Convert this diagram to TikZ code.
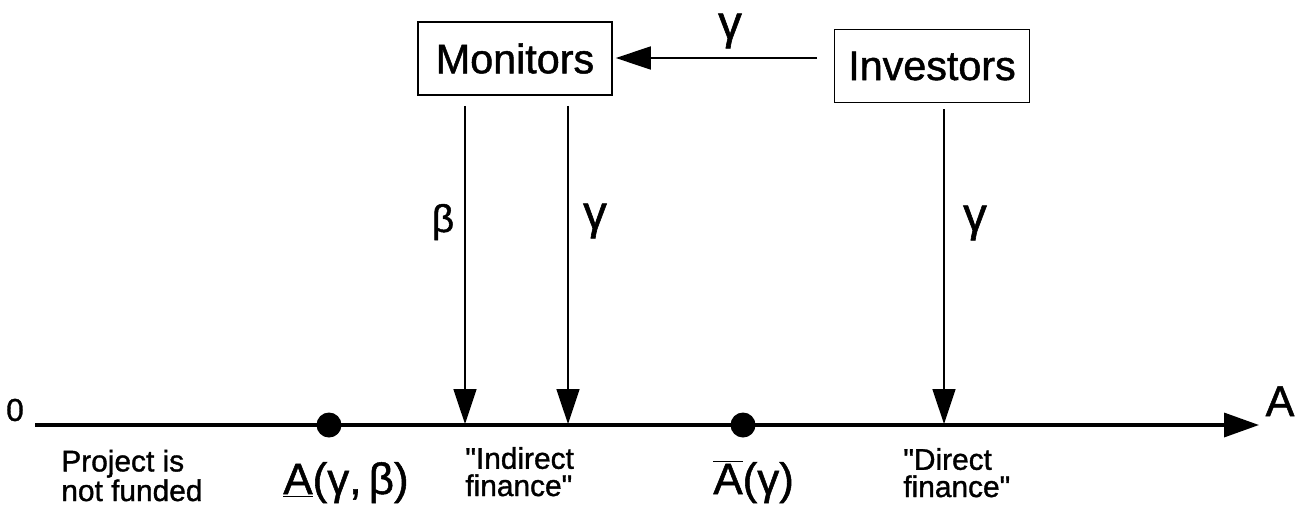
\documentclass[tikz,border=0pt]{standalone}
\usepackage{fontspec}
\setmainfont{Liberation Sans}
\newfontfamily\hv{Liberation Sans}[FakeBold=1.2]
\usetikzlibrary{arrows.meta}
\begin{document}
\begin{tikzpicture}[x=0.02cm,y=-0.02cm,
  box/.style={draw,line width=0.9pt,minimum height=1.46cm,inner sep=0pt,font=\hv\fontsize{23.5}{26}\selectfont},
  arr/.style={line width=0.9pt,-{Triangle[length=0.7cm,width=0.46cm]}},
  axisline/.style={line width=2pt,-{Triangle[length=0.7cm,width=0.48cm]}},
  dot/.style={circle,fill,inner sep=0pt,minimum size=0.5cm},
  lbl/.style={font=\hv\fontsize{17}{15.5}\selectfont,align=left,anchor=base west,inner sep=0pt},
  grk/.style={font=\hv\fontsize{27}{28}\selectfont,inner sep=0pt},
  grkb/.style={font=\hv\fontsize{22}{24}\selectfont,inner sep=0pt},
  big/.style={font=\hv\fontsize{25}{27}\selectfont,inner sep=0pt,anchor=base west}]
\useasboundingbox (0,0) rectangle (1297,511);
\node[box,minimum width=3.88cm] (mon) at (515,58.5) {Monitors};
\node[box,minimum width=3.9cm] (inv) at (932,66) {Investors};
\coordinate (gs) at (817,58);
\draw[arr] (gs) -- ([xshift=0.06cm]mon.east |- gs);
\node[grk] (g0) at (730,31) {γ};
% axis
\coordinate (O) at (35,425);
\coordinate (E) at (1259,425);
\draw[axisline] (O) -- (E);
\node[font=\hv\fontsize{18}{20}\selectfont,inner sep=0pt] (zero) at (15,410) {0};
\node[font=\hv\fontsize{24.5}{26}\selectfont,inner sep=0pt,anchor=base] (Alab) at (1280,416) {A};
% dots
\node[dot] (d1) at (329,425) {};
\node[dot] (d2) at (743,425) {};
% down arrows
\coordinate (b1) at (465,424);
\coordinate (b2) at (568,424);
\coordinate (b3) at (944,424);
\draw[arr,shorten <=0.2cm] (mon.south -| b1) -- (b1);
\draw[arr,shorten <=0.2cm] (mon.south -| b2) -- (b2);
\draw[arr,shorten <=0.12cm] (inv.south -| b3) -- (b3);
\node[grkb] (lb) at (443,222) {β};
\node[grk] (lg1) at (595,221) {γ};
\node[grk] (lg2) at (975,223) {γ};
% labels
\node[lbl] (t1) at (61,501) {Project is\\not funded};
\node[big] (t2) at (283,494) {\underline{A}(γ,\,β)};
\node[lbl] (t3) at (465,496) {"Indirect\\finance"};
\node[big] (t4) at (713,494) {$\overline{\hbox{\hv\fontsize{25}{27}\selectfont A}}$(γ)};
\node[lbl] (t5) at (903,497) {"Direct\\finance"};
\end{tikzpicture}
\end{document}
